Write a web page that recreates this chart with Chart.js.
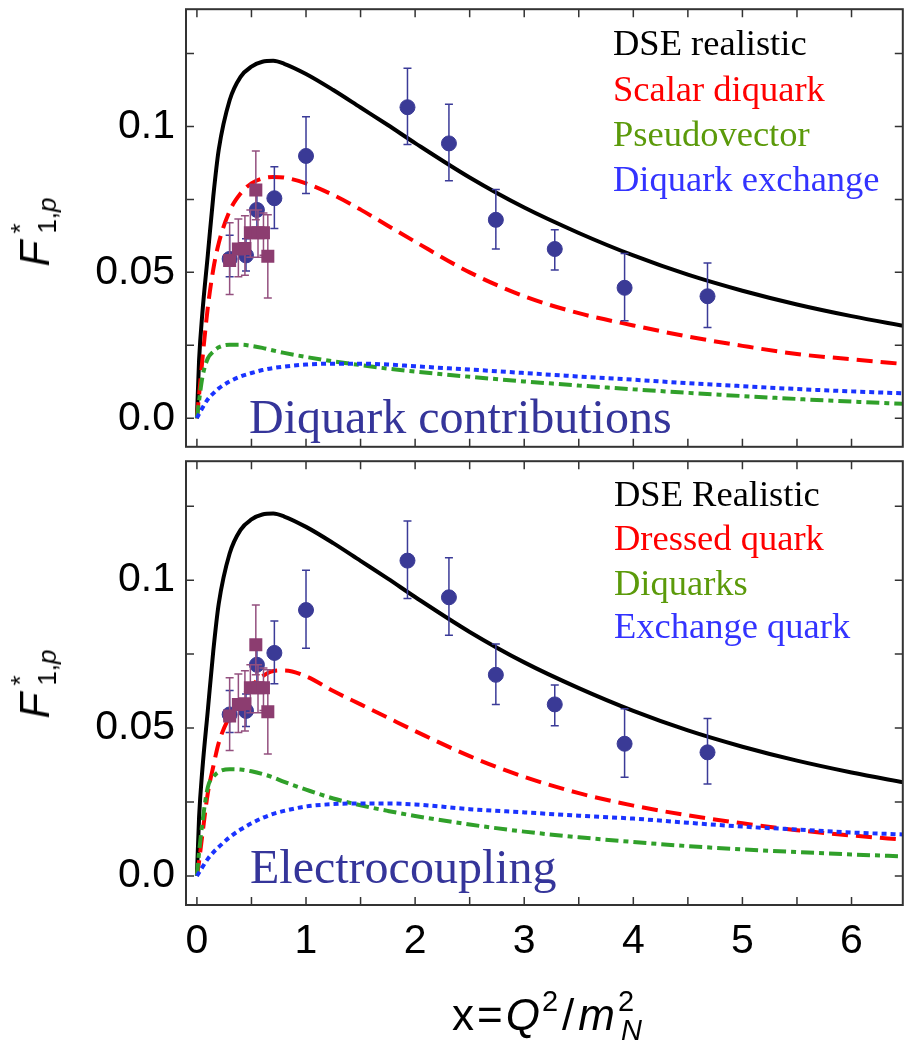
<!DOCTYPE html>
<html>
<head>
<meta charset="utf-8">
<script src="https://cdn.jsdelivr.net/npm/chart.js@4.4.1/dist/chart.umd.min.js"></script>
<style>
  html, body { margin: 0; padding: 0; background: #fff; }
  #wrap { position: relative; width: 904px; height: 1040px; overflow: hidden; }
  canvas { position: absolute; left: 0; }
  .txt { position: absolute; white-space: nowrap; line-height: 1; }
  .serif { font-family: "Liberation Serif", "Times New Roman", serif; }
  .sans { font-family: "Liberation Sans", Arial, sans-serif; }
  .leg { font-size: 36.5px; }
  .note { font-size: 48px; color: #35359a; }
  .ytitle { left: 35px; font-size: 42px; transform: translate(-50%, -50%) rotate(-90deg); }
  .sup { font-size: 26px; position: relative; top: -20px; display: inline-block; width: 0; }
  .sub { font-size: 26px; position: relative; top: 7px; }
</style>
</head>
<body>
<div id="wrap">
  <canvas id="topChart" width="912" height="456" style="top:0"></canvas>
  <canvas id="bottomChart" width="912" height="588" style="top:452px"></canvas>

  <div class="txt serif leg" style="left:613px;top:25.2px;color:#000">DSE realistic</div>
  <div class="txt serif leg" style="left:613px;top:70.5px;color:#ff0000">Scalar diquark</div>
  <div class="txt serif leg" style="left:613px;top:116.2px;color:#5b9a0a">Pseudovector</div>
  <div class="txt serif leg" style="left:613px;top:161.2px;color:#3333ff">Diquark exchange</div>
  <div class="txt serif note" style="left:249px;top:392.8px">Diquark contributions</div>

  <div class="txt serif leg" style="left:614px;top:476.2px;color:#000">DSE Realistic</div>
  <div class="txt serif leg" style="left:614px;top:519.5px;color:#ff0000">Dressed quark</div>
  <div class="txt serif leg" style="left:614px;top:564.5px;color:#5b9a0a">Diquarks</div>
  <div class="txt serif leg" style="left:614px;top:607.8px;color:#3333ff">Exchange quark</div>
  <div class="txt serif note" style="left:250px;top:842.5px">Electrocoupling</div>

  <div class="txt sans ytitle" style="top:232px"><i>F</i><span class="sup">&nbsp;*</span><span class="sub">&nbsp;1,<i>p</i></span></div>
  <div class="txt sans ytitle" style="top:684px"><i>F</i><span class="sup">&nbsp;*</span><span class="sub">&nbsp;1,<i>p</i></span></div>

  <div class="txt sans" style="left:547px;top:993px;font-size:44px;transform:translateX(-50%)">x<span style="margin:0 3px">=</span><i>Q</i><span style="font-size:29px;position:relative;top:-19px;margin-left:2px">2</span><span style="margin:0 4px">/</span><i>m</i><span class="sup" style="font-size:29px;top:-19px;margin-left:3px">2</span><span class="sub" style="font-size:29px;top:10px;margin-left:3px"><i>N</i></span></div>
</div>

<script>
// curve sample points (x = Q^2 / m_N^2)
const curveX = [0, 0.02, 0.05, 0.1, 0.15, 0.2, 0.3, 0.4, 0.5, 0.6, 0.7, 0.8, 1.0, 1.25, 1.5, 1.75, 2, 2.5, 3, 3.5, 4, 4.5, 5, 5.5, 6, 6.5];

// DSE realistic (same in both panels)
const realistic = [0, 0.02, 0.036, 0.056, 0.076, 0.092, 0.109, 0.117, 0.1205, 0.1222, 0.1225, 0.1215, 0.118, 0.1125, 0.1065, 0.1005, 0.0943, 0.0825, 0.0722, 0.0635, 0.0558, 0.0492, 0.0437, 0.039, 0.035, 0.0315];

// top panel: diquark contributions
const scalarDiquark = [0, 0.008, 0.02, 0.038, 0.051, 0.06, 0.071, 0.077, 0.0805, 0.0822, 0.0827, 0.0825, 0.0805, 0.0765, 0.0715, 0.066, 0.0605, 0.05, 0.0418, 0.036, 0.0318, 0.028, 0.0248, 0.022, 0.0202, 0.0185];
const pseudovector = [0, 0.006, 0.014, 0.0205, 0.0228, 0.0243, 0.0252, 0.0252, 0.0248, 0.0241, 0.0232, 0.0224, 0.021, 0.0195, 0.0182, 0.017, 0.016, 0.0142, 0.0126, 0.0112, 0.0099, 0.0087, 0.0076, 0.0066, 0.0057, 0.0049];
const diquarkExchange = [0, 0.0015, 0.0035, 0.0065, 0.0085, 0.0102, 0.0126, 0.0143, 0.0155, 0.0165, 0.0172, 0.0177, 0.0184, 0.0187, 0.0187, 0.0184, 0.0178, 0.0167, 0.0155, 0.0143, 0.0132, 0.012, 0.011, 0.01, 0.0092, 0.0085];

// bottom panel: electrocoupling
const dressedQuark = [0, 0.005, 0.014, 0.028, 0.037, 0.045, 0.054, 0.06, 0.0642, 0.0675, 0.0693, 0.0695, 0.0675, 0.0625, 0.058, 0.0535, 0.049, 0.0405, 0.0335, 0.028, 0.0238, 0.0205, 0.0178, 0.0155, 0.0137, 0.0122];
const diquarks = [0, 0.008, 0.018, 0.03, 0.0335, 0.0352, 0.0361, 0.036, 0.0354, 0.0345, 0.0333, 0.0318, 0.0292, 0.0262, 0.0239, 0.022, 0.0203, 0.0174, 0.015, 0.0131, 0.0115, 0.0101, 0.009, 0.0081, 0.0073, 0.0066];
const exchangeQuark = [0, 0.0012, 0.003, 0.0058, 0.008, 0.0098, 0.0131, 0.0157, 0.0178, 0.0196, 0.021, 0.022, 0.0235, 0.0243, 0.0245, 0.0245, 0.0242, 0.0226, 0.0215, 0.0204, 0.0194, 0.018, 0.0167, 0.0157, 0.0147, 0.014];

// data points: circles
const circX = [0.30, 0.45, 0.55, 0.71, 1.0, 1.93, 2.31, 2.74, 3.28, 3.92, 4.68];
const circY = [0.0546, 0.0558, 0.0714, 0.0754, 0.0899, 0.1066, 0.0942, 0.068, 0.058, 0.0447, 0.0418];
const circLo = [0.0485, 0.0505, 0.065, 0.065, 0.077, 0.0938, 0.0814, 0.058, 0.0508, 0.0334, 0.0311];
const circHi = [0.0627, 0.0615, 0.078, 0.0862, 0.1033, 0.12, 0.1076, 0.0784, 0.0646, 0.0565, 0.0532];

// data points: squares
const sqX = [0.30, 0.38, 0.44, 0.49, 0.54, 0.56, 0.61, 0.65];
const sqY = [0.0541, 0.058, 0.0582, 0.0636, 0.0782, 0.0636, 0.0636, 0.0555];
const sqLo = [0.0424, 0.0485, 0.049, 0.0552, 0.068, 0.0552, 0.0559, 0.0412];
const sqHi = [0.067, 0.0683, 0.0694, 0.0714, 0.0916, 0.0714, 0.0703, 0.0697];

// ticks
const xTickLabels = [0, 1, 2, 3, 4, 5, 6];
const xMinorTicks = [0, 0.5, 1, 1.5, 2, 2.5, 3, 3.5, 4, 4.5, 5, 5.5, 6, 6.5];
const yTickValues = [0, 0.05, 0.1];
const yTickLabels = ["0.0", "0.05", "0.1"];
const yMinorTicks = [0, 0.025, 0.05, 0.075, 0.1, 0.125];

const tickFont = { family: "'Liberation Sans', Arial, sans-serif", size: 41 };

const pts = (xs, ys) => xs.map((x, i) => ({ x, y: ys[i] }));

// error bars + frame with inward ticks
const framePlugin = {
  id: "frame",
  beforeDatasetDraw(chart, args) {
    const ds = chart.data.datasets[args.index];
    if (!ds.errLo) return;
    const ctx = chart.ctx, xs = chart.scales.x, ys = chart.scales.y;
    ctx.save();
    ctx.strokeStyle = ds.errColor;
    ctx.lineWidth = 1.5;
    ctx.beginPath();
    ds.data.forEach((p, i) => {
      const px = xs.getPixelForValue(p.x);
      const lo = ys.getPixelForValue(ds.errLo[i]);
      const hi = ys.getPixelForValue(ds.errHi[i]);
      ctx.moveTo(px, lo); ctx.lineTo(px, hi);
      ctx.moveTo(px - 4, lo); ctx.lineTo(px + 4, lo);
      ctx.moveTo(px - 4, hi); ctx.lineTo(px + 4, hi);
    });
    ctx.stroke();
    ctx.restore();
  },
  afterDraw(chart) {
    const { ctx, chartArea: a, scales } = chart;
    ctx.save();
    ctx.strokeStyle = "#333";
    ctx.lineWidth = 1.5;
    ctx.beginPath();
    xMinorTicks.forEach(v => {
      const px = scales.x.getPixelForValue(v);
      ctx.moveTo(px, a.top); ctx.lineTo(px, a.top + 8);
      ctx.moveTo(px, a.bottom); ctx.lineTo(px, a.bottom - 8);
    });
    yMinorTicks.forEach(v => {
      const py = scales.y.getPixelForValue(v);
      ctx.moveTo(a.left, py); ctx.lineTo(a.left + 8, py);
      ctx.moveTo(a.right, py); ctx.lineTo(a.right - 8, py);
    });
    ctx.stroke();
    ctx.lineWidth = 2;
    ctx.strokeRect(a.left, a.top, a.right - a.left, a.bottom - a.top);
    ctx.restore();
  }
};

function curve(data, color, dash) {
  return {
    data: pts(curveX, data),
    showLine: true,
    borderColor: color,
    borderWidth: 4,
    borderDash: dash,
    pointRadius: 0,
    cubicInterpolationMode: "monotone",
    order: 2
  };
}

function makePanel(id, parts, bottom) {
  new Chart(document.getElementById(id), {
    type: "scatter",
    data: {
      datasets: [
        {
          data: pts(sqX, sqY), errLo: sqLo, errHi: sqHi, errColor: "#94507f",
          pointStyle: "rect", pointRadius: 9.2, backgroundColor: "#8c3d70", borderWidth: 0, order: 0
        },
        {
          data: pts(circX, circY), errLo: circLo, errHi: circHi, errColor: "#3b3b98",
          pointStyle: "circle", pointRadius: 7.5, backgroundColor: "#3a3a96", borderColor: "#3a3a96", borderWidth: 1, order: 1
        },
        curve(parts[2], "#1a33ff", [5, 4]),
        curve(parts[1], "#30a02a", [13, 5, 5, 5]),
        curve(parts[0], "#ff0000", [16, 8]),
        curve(realistic, "#000000", [])
      ]
    },
    options: {
      responsive: false,
      animation: false,
      layout: { padding: { top: 7, right: 6, bottom: bottom ? 0 : 3, left: 0 } },
      plugins: { legend: { display: false }, tooltip: { enabled: false } },
      scales: {
        x: {
          type: "linear",
          min: -0.1,
          max: 6.47,
          display: bottom,
          grid: { display: false, drawTicks: false },
          border: { display: false },
          ticks: { font: tickFont, color: "#000", padding: 12, maxRotation: 0 },
          afterBuildTicks: s => { s.ticks = xTickLabels.map(v => ({ value: v })); },
          afterFit: s => { s.height = bottom ? 135 : 0; s.paddingLeft = 0; s.paddingRight = 0; }
        },
        y: {
          min: -0.0098,
          max: 0.1402,
          grid: { display: false, drawTicks: false },
          border: { display: false },
          ticks: { font: tickFont, color: "#000", padding: 11, callback: (v, i) => yTickLabels[i] },
          afterBuildTicks: s => { s.ticks = yTickValues.map(v => ({ value: v })); },
          afterFit: s => { s.width = 186; s.paddingTop = 0; s.paddingBottom = 0; }
        }
      }
    },
    plugins: [framePlugin]
  });
}

makePanel("topChart", [scalarDiquark, pseudovector, diquarkExchange], false);
makePanel("bottomChart", [dressedQuark, diquarks, exchangeQuark], true);
</script>
</body>
</html>
